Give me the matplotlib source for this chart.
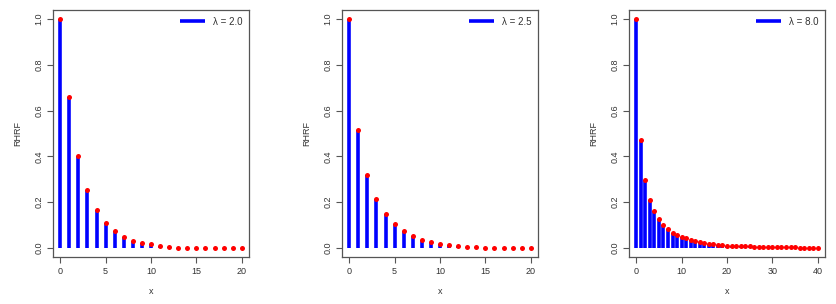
import matplotlib
matplotlib.use("Agg")
import matplotlib.pyplot as plt
import numpy as np

plt.rcParams['font.family'] = ['Liberation Sans', 'DejaVu Sans']

x1 = list(range(0, 21))
y1 = [1.0, 0.658, 0.401, 0.254, 0.165, 0.109, 0.073, 0.047, 0.031, 0.020, 0.015,
      0.007, 0.004, 0.0015, 0.0015, 0.0015, 0.0, 0.0, 0.0, 0.0, 0.0]

x2 = list(range(0, 21))
y2 = [1.0, 0.514, 0.318, 0.212, 0.146, 0.104, 0.073, 0.053, 0.036, 0.026, 0.018,
      0.012, 0.007, 0.004, 0.004, 0.0015, 0.0015, 0.0015, 0.0, 0.0, 0.0]

x3 = list(range(0, 41))
y3 = [1.0, 0.473, 0.296, 0.210, 0.159, 0.124, 0.101, 0.082, 0.067, 0.055, 0.048,
      0.041, 0.035, 0.031, 0.026, 0.023, 0.019, 0.016, 0.013, 0.012, 0.010,
      0.009, 0.008, 0.007, 0.006, 0.006, 0.005, 0.004, 0.004, 0.003, 0.003,
      0.003, 0.003, 0.003, 0.002, 0.002, 0.0, 0.0, 0.0, 0.0, 0.0]

labels = ["λ = 2.0", "λ = 2.5", "λ = 8.0"]
xticks_list = [[0, 5, 10, 15, 20], [0, 5, 10, 15, 20], [0, 10, 20, 30, 40]]
yticks = [0.0, 0.2, 0.4, 0.6, 0.8, 1.0]

fig = plt.figure(figsize=(8.36, 3.04), dpi=100)
lefts = [53 / 836, 342 / 836, 629 / 836]
width = 196 / 836
bottom = 47 / 304
height = 247 / 304

txtc = '#333333'
for i, (xs, ys, lab, xt) in enumerate(zip([x1, x2, x3], [y1, y2, y3], labels, xticks_list)):
    ax = fig.add_axes([lefts[i], bottom, width, height])
    xs = np.array(xs)
    ys = np.array(ys)
    ax.vlines(xs, 0, ys, colors='#0000ff', linewidth=2.6, label=lab)
    ax.plot(xs, ys, 'o', color='#ff0000', markersize=3.6, markeredgewidth=0)
    xmax = xs.max()
    ax.set_xlim(-0.04 * xmax, xmax * 1.04)
    ax.set_ylim(-0.04, 1.04)
    ax.set_xticks(xt)
    ax.set_yticks(yticks)
    ax.set_yticklabels([f"{v:.1f}" for v in yticks], rotation=90, va='center')
    ax.tick_params(labelsize=6.5, colors='#555555', labelcolor=txtc, length=4, width=0.8, pad=3)
    for s in ax.spines.values():
        s.set_color('#555555')
        s.set_linewidth(0.9)
    ax.set_xlabel('x', fontsize=6.5, color=txtc, labelpad=8)
    ax.set_ylabel('RHRF', fontsize=6.5, color=txtc, labelpad=9)
    leg = ax.legend(loc='upper right', frameon=False, fontsize=7, handlelength=2.6,
                    borderaxespad=0.3, handletextpad=0.8)
    for t in leg.get_texts():
        t.set_color(txtc)

fig.savefig('out.png', dpi=100)
